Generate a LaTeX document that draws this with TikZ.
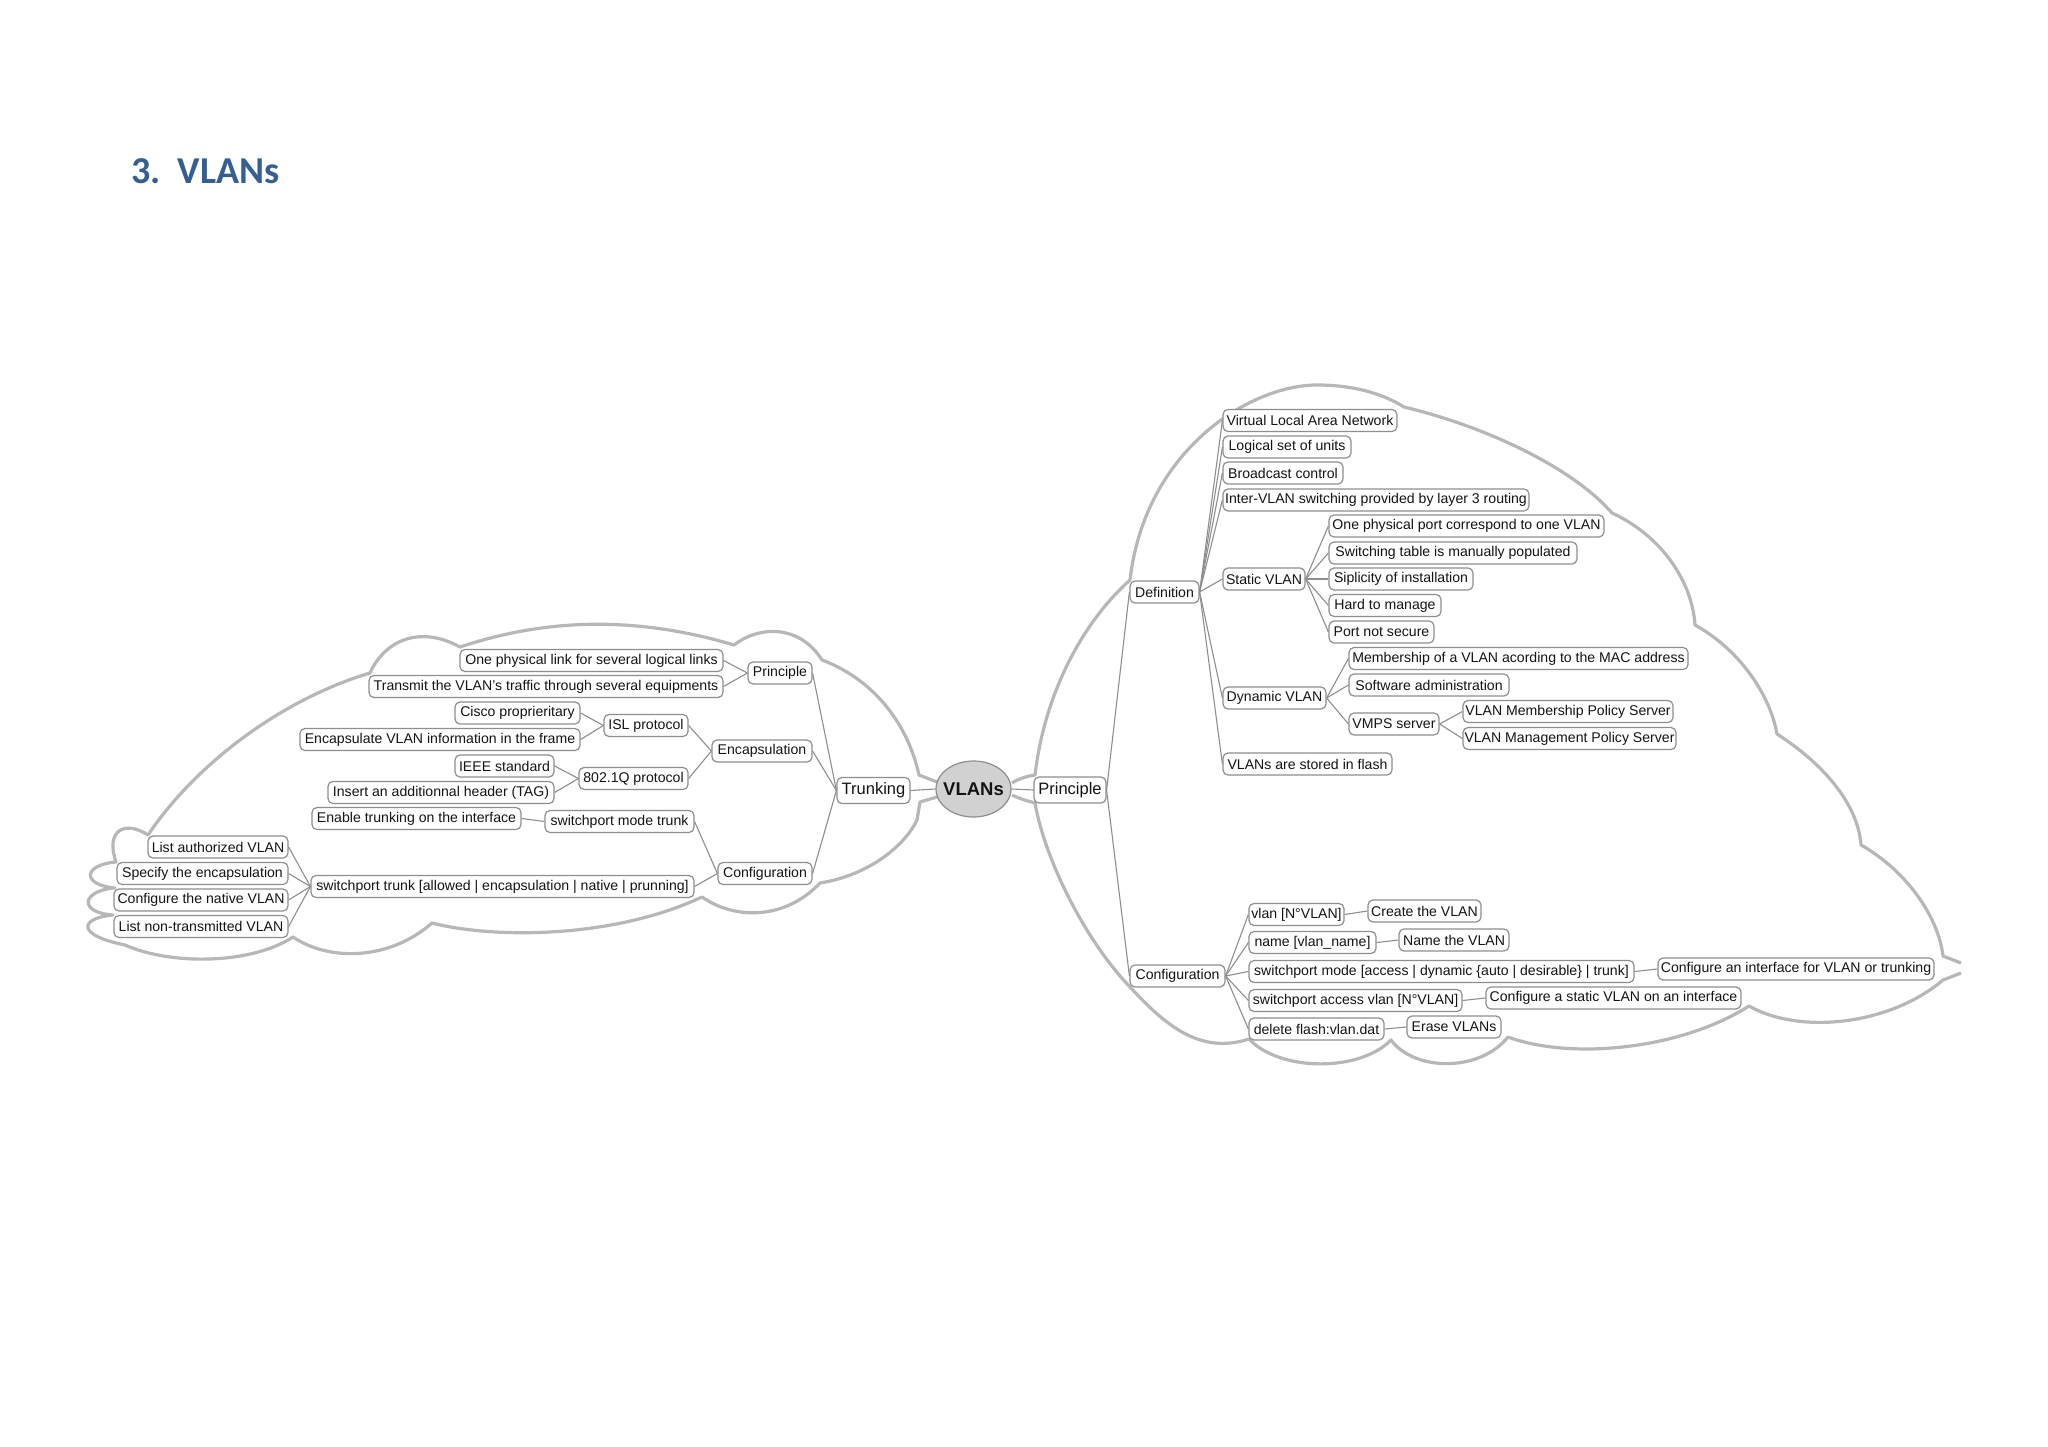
\documentclass[tikz,border=0pt]{standalone}
\usepackage{fontspec}
\setmainfont{Liberation Sans}
\newfontfamily\titlefont{Carlito}
\usetikzlibrary{shapes.geometric}
\definecolor{cloudgray}{HTML}{B8B6B6}
\definecolor{edgegray}{HTML}{8E8E8E}
\definecolor{titleblue}{HTML}{365F91}
\tikzset{
	mapbox/.style={draw=edgegray, line width=1.2pt, fill=white, rounded corners=5pt, minimum height=22pt, inner sep=0pt, yshift=-1pt, text=black!92, font=\fontsize{14.1}{16}\selectfont},
	topbox/.style={mapbox, yshift=0pt, minimum height=26pt, font=\fontsize{16.5}{18}\selectfont},
	link/.style={draw=edgegray, line width=1.1pt},
	cloudline/.style={draw=cloudgray, line width=3.2pt, line join=round}
}

\begin{document}
\begin{tikzpicture}[x=1pt, y=-1pt]
	%%%%% START %%%%%
	\useasboundingbox (0, 0) rectangle (2048, 1447);
	\node[anchor=base west, font=\titlefont\bfseries\fontsize{38}{40}\selectfont, text=titleblue, inner sep=0pt] (title) at (131, 184) {3.\ \ VLANs};

	% clouds first, the boxes sit on them
	\draw[cloudline] (1012, 783) .. controls (1020, 778) and (1028, 776) .. (1035, 775)
		.. controls (1045, 690) and (1085, 620) .. (1130, 580)
		.. controls (1145, 450) and (1250, 385) .. (1317, 385)
		.. controls (1350, 385) and (1380, 392) .. (1404, 407)
		.. controls (1480, 425) and (1570, 465) .. (1612, 513)
		.. controls (1660, 535) and (1692, 580) .. (1695, 625)
		.. controls (1740, 650) and (1770, 695) .. (1777, 734)
		.. controls (1825, 765) and (1858, 805) .. (1861, 845)
		.. controls (1905, 870) and (1938, 915) .. (1943, 956)
		-- (1961, 963);
	\draw[cloudline] (1961, 973) -- (1943, 980)
		.. controls (1890, 1025) and (1800, 1035) .. (1749, 1006)
		.. controls (1680, 1050) and (1570, 1060) .. (1508, 1037)
		.. controls (1480, 1072) and (1415, 1072) .. (1391, 1040)
		.. controls (1360, 1072) and (1280, 1072) .. (1249, 1039)
		.. controls (1200, 1055) and (1165, 1025) .. (1130, 987)
		.. controls (1085, 940) and (1045, 860) .. (1035, 803)
		.. controls (1028, 801) and (1020, 799) .. (1012, 795);

	\draw[cloudline] (937, 782) -- (919, 775)
		.. controls (908, 725) and (875, 680) .. (822, 660)
		.. controls (800, 625) and (760, 625) .. (734, 645)
		.. controls (640, 617) and (550, 617) .. (460, 647)
		.. controls (420, 625) and (385, 640) .. (370, 673)
		.. controls (280, 700) and (195, 765) .. (148, 835)
		.. controls (125, 820) and (105, 830) .. (116, 862)
		.. controls (82, 865) and (82, 885) .. (115, 888)
		-- (113, 888)
		.. controls (80, 892) and (80, 913) .. (113, 915)
		.. controls (80, 918) and (75, 935) .. (125, 945)
		.. controls (170, 965) and (250, 965) .. (293, 937)
		.. controls (330, 962) and (390, 960) .. (432, 923)
		.. controls (490, 938) and (610, 940) .. (702, 897)
		.. controls (735, 920) and (785, 920) .. (820, 883)
		.. controls (870, 875) and (905, 845) .. (917, 820)
		-- (920, 802) -- (937, 797);

	% centre
	\node[ellipse, draw=edgegray, line width=1.2pt, fill=black!18, minimum width=75pt, minimum height=56pt, inner sep=0pt, font=\bfseries\fontsize{18.5}{20}\selectfont, text=black!92] (vlans) at (973.5, 789) {\makebox[0pt]{VLANs}};
	\node[topbox, minimum width=72pt] (principle) at (1070, 789) {Principle};
	\node[topbox, minimum width=73pt] (trunking) at (873.5, 789.5) {Trunking};

	% right side
	\node[mapbox, minimum width=69pt] (definition) at (1164.5, 591) {Definition};
	\node[mapbox, minimum width=174pt] (virtual) at (1310, 419.5) {Virtual Local Area Network};
	\node[mapbox, minimum width=128pt] (logical) at (1287, 446) {Logical set of units};
	\node[mapbox, minimum width=120pt] (broadcast) at (1283, 472) {Broadcast control};
	\node[mapbox, minimum width=306pt] (intervlan) at (1376, 499) {Inter-VLAN switching provided by layer 3 routing};
	\node[mapbox, minimum width=82pt] (static) at (1264, 578) {Static VLAN};
	\node[mapbox, minimum width=275pt] (onephys) at (1466.5, 525) {One physical port correspond to one VLAN};
	\node[mapbox, minimum width=248pt] (switching) at (1453, 552) {Switching table is manually populated};
	\node[mapbox, minimum width=144pt] (siplicity) at (1401, 578) {Siplicity of installation};
	\node[mapbox, minimum width=112pt] (hard) at (1385, 604.5) {Hard to manage};
	\node[mapbox, minimum width=105pt] (portnot) at (1381.5, 631) {Port not secure};
	\node[mapbox, minimum width=103pt] (dynamic) at (1274.5, 697) {Dynamic VLAN};
	\node[mapbox, minimum width=339pt] (membership) at (1518.5, 657.5) {Membership of a VLAN acording to the MAC address};
	\node[mapbox, minimum width=160pt] (software) at (1429, 684) {Software administration};
	\node[mapbox, minimum width=90pt] (vmps) at (1394, 723) {VMPS server};
	\node[mapbox, minimum width=210pt] (vmember) at (1568, 710.5) {VLAN Membership Policy Server};
	\node[mapbox, minimum width=213pt] (vmanage) at (1569.5, 737.5) {VLAN Management Policy Server};
	\node[mapbox, minimum width=169pt] (stored) at (1307.5, 763) {VLANs are stored in flash};

	\node[mapbox, minimum width=95pt] (configuration) at (1177.5, 975) {Configuration};
	\node[mapbox, minimum width=95pt] (vlancmd) at (1296.5, 913.5) {vlan [N°VLAN]};
	\node[mapbox, minimum width=113pt] (create) at (1424.5, 910) {Create the VLAN};
	\node[mapbox, minimum width=127pt] (namecmd) at (1312.5, 941.5) {name [vlan\_name]};
	\node[mapbox, minimum width=110pt] (namevlan) at (1454, 939) {Name the VLAN};
	\node[mapbox, minimum width=385pt] (modecmd) at (1441.5, 970.5) {switchport mode [access | dynamic \{auto | desirable\} | trunk]};
	\node[mapbox, minimum width=276pt] (confif) at (1796, 968) {Configure an interface for VLAN or trunking};
	\node[mapbox, minimum width=213pt] (accesscmd) at (1355.5, 999.5) {switchport access vlan [N°VLAN]};
	\node[mapbox, minimum width=255pt] (confstatic) at (1613.5, 997) {Configure a static VLAN on an interface};
	\node[mapbox, minimum width=135pt] (deletecmd) at (1316.5, 1028) {delete flash:vlan.dat};
	\node[mapbox, minimum width=94pt] (erase) at (1454, 1026) {Erase VLANs};

	% left side
	\node[mapbox, minimum width=64pt] (lprinciple) at (780, 672) {Principle};
	\node[mapbox, minimum width=263pt] (onelink) at (591.5, 659.5) {One physical link for several logical links};
	\node[mapbox, minimum width=354pt] (transmit) at (546, 685.5) {Transmit the VLAN's traffic through several equipments};
	\node[mapbox, minimum width=100pt] (encaps) at (762, 750) {Encapsulation};
	\node[mapbox, minimum width=84pt] (isl) at (646, 724.5) {ISL protocol};
	\node[mapbox, minimum width=109pt] (dotq) at (633.5, 777.5) {802.1Q protocol};
	\node[mapbox, minimum width=125pt] (cisco) at (517.5, 712) {Cisco proprieritary};
	\node[mapbox, minimum width=280pt] (encframe) at (440, 738.5) {Encapsulate VLAN information in the frame};
	\node[mapbox, minimum width=99pt] (ieee) at (504.5, 765) {IEEE standard};
	\node[mapbox, minimum width=226pt] (insert) at (441, 791.5) {Insert an additionnal header (TAG)};
	\node[mapbox, minimum width=94pt] (lconfig) at (765, 872.5) {Configuration};
	\node[mapbox, minimum width=149pt] (trunkmode) at (619.5, 820.5) {switchport mode trunk};
	\node[mapbox, minimum width=209pt] (enable) at (416.5, 817.5) {Enable trunking on the interface};
	\node[mapbox, minimum width=383pt] (trunkcmd) at (502.5, 885.5) {switchport trunk [allowed | encapsulation | native | prunning]};
	\node[mapbox, minimum width=140pt] (authorized) at (218, 846) {List authorized VLAN};
	\node[mapbox, minimum width=171pt] (specify) at (202.5, 872.5) {Specify the encapsulation};
	\node[mapbox, minimum width=174pt] (native) at (201, 899) {Configure the native VLAN};
	\node[mapbox, minimum width=174pt] (nontrans) at (201, 925.5) {List non-transmitted VLAN};

	% connectors
	\draw[link] (vlans.east) -- (principle.west);
	\draw[link] (vlans.west) -- (trunking.east);

	\draw[link] (principle.east) -- (definition.west);
	\draw[link] (principle.east) -- (configuration.west);
	\draw[link] (definition.east) -- (virtual.west);
	\draw[link] (definition.east) -- (logical.west);
	\draw[link] (definition.east) -- (broadcast.west);
	\draw[link] (definition.east) -- (intervlan.west);
	\draw[link] (definition.east) -- (static.west);
	\draw[link] (definition.east) -- (dynamic.west);
	\draw[link] (definition.east) -- (stored.west);
	\draw[link] (static.east) -- (onephys.west);
	\draw[link] (static.east) -- (switching.west);
	\draw[link] (static.east) -- (siplicity.west);
	\draw[link] (static.east) -- (hard.west);
	\draw[link] (static.east) -- (portnot.west);
	\draw[link] (dynamic.east) -- (membership.west);
	\draw[link] (dynamic.east) -- (software.west);
	\draw[link] (dynamic.east) -- (vmps.west);
	\draw[link] (vmps.east) -- (vmember.west);
	\draw[link] (vmps.east) -- (vmanage.west);
	\draw[link] (configuration.east) -- (vlancmd.west);
	\draw[link] (configuration.east) -- (namecmd.west);
	\draw[link] (configuration.east) -- (modecmd.west);
	\draw[link] (configuration.east) -- (accesscmd.west);
	\draw[link] (configuration.east) -- (deletecmd.west);
	\draw[link] (vlancmd.east) -- (create.west);
	\draw[link] (namecmd.east) -- (namevlan.west);
	\draw[link] (modecmd.east) -- (confif.west);
	\draw[link] (accesscmd.east) -- (confstatic.west);
	\draw[link] (deletecmd.east) -- (erase.west);

	\draw[link] (trunking.west) -- (lprinciple.east);
	\draw[link] (trunking.west) -- (encaps.east);
	\draw[link] (trunking.west) -- (lconfig.east);
	\draw[link] (lprinciple.west) -- (onelink.east);
	\draw[link] (lprinciple.west) -- (transmit.east);
	\draw[link] (encaps.west) -- (isl.east);
	\draw[link] (encaps.west) -- (dotq.east);
	\draw[link] (isl.west) -- (cisco.east);
	\draw[link] (isl.west) -- (encframe.east);
	\draw[link] (dotq.west) -- (ieee.east);
	\draw[link] (dotq.west) -- (insert.east);
	\draw[link] (lconfig.west) -- (trunkmode.east);
	\draw[link] (lconfig.west) -- (trunkcmd.east);
	\draw[link] (trunkmode.west) -- (enable.east);
	\draw[link] (trunkcmd.west) -- (authorized.east);
	\draw[link] (trunkcmd.west) -- (specify.east);
	\draw[link] (trunkcmd.west) -- (native.east);
	\draw[link] (trunkcmd.west) -- (nontrans.east);
	%%%%% END %%%%%
\end{tikzpicture}
\end{document}
